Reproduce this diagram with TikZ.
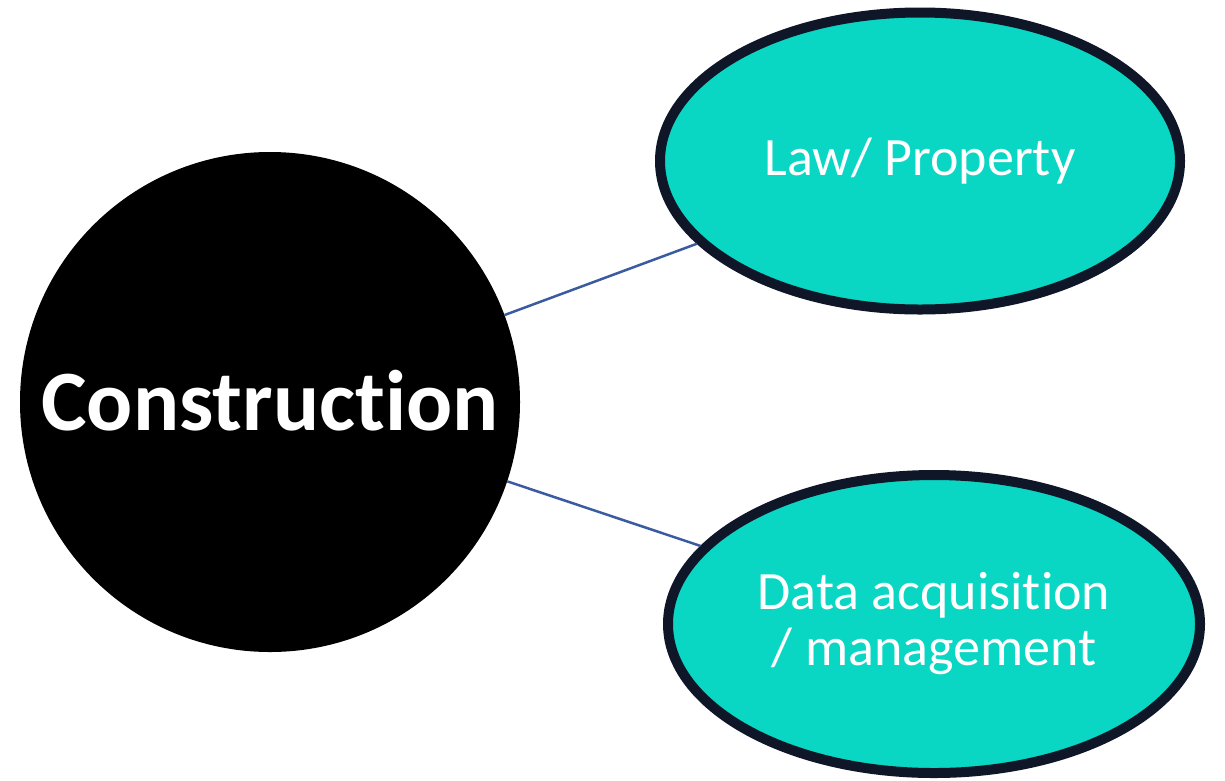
\documentclass[tikz,border=0pt]{standalone}
\usepackage{fontspec}
\setmainfont{Carlito}[Ligatures=NoCommon]
\usepackage{tikz}
\usetikzlibrary{shapes.geometric}

\definecolor{topicfill}{HTML}{0AD6C4}
\definecolor{topicline}{HTML}{0F1628}
\definecolor{linkblue}{HTML}{3A5BA0}

\begin{document}
\begin{tikzpicture}[
      x=1pt, y=-1pt,
      hub/.style={shape=circle, fill=black, draw=none, minimum size=500pt, inner sep=0pt,
        text=white, font=\fontsize{86}{90}\selectfont\bfseries},
      topic/.style={shape=ellipse, fill=topicfill, draw=topicline, line width=10pt, inner sep=0pt,
        text=white, align=center, font=\fontsize{54}{56}\selectfont},
      link/.style={draw=linkblue, line width=2.5pt}
    ]
      \useasboundingbox (0,0) rectangle (1225,780);

      % Centre
      \node[hub] (build) at (270,402) {\raisebox{4pt}{Construction}};

      % Branches
      \node[topic, minimum width=520pt, minimum height=297pt] (law) at (920,161) {Law/ Property};
      \node[topic, minimum width=532pt, minimum height=298pt] (data) at (934,624) {Data acquisition\\/ management};

      % Links
      \draw[link] (build) -- (law);
      \draw[link] (build) -- (data);
    \end{tikzpicture}
\end{document}
